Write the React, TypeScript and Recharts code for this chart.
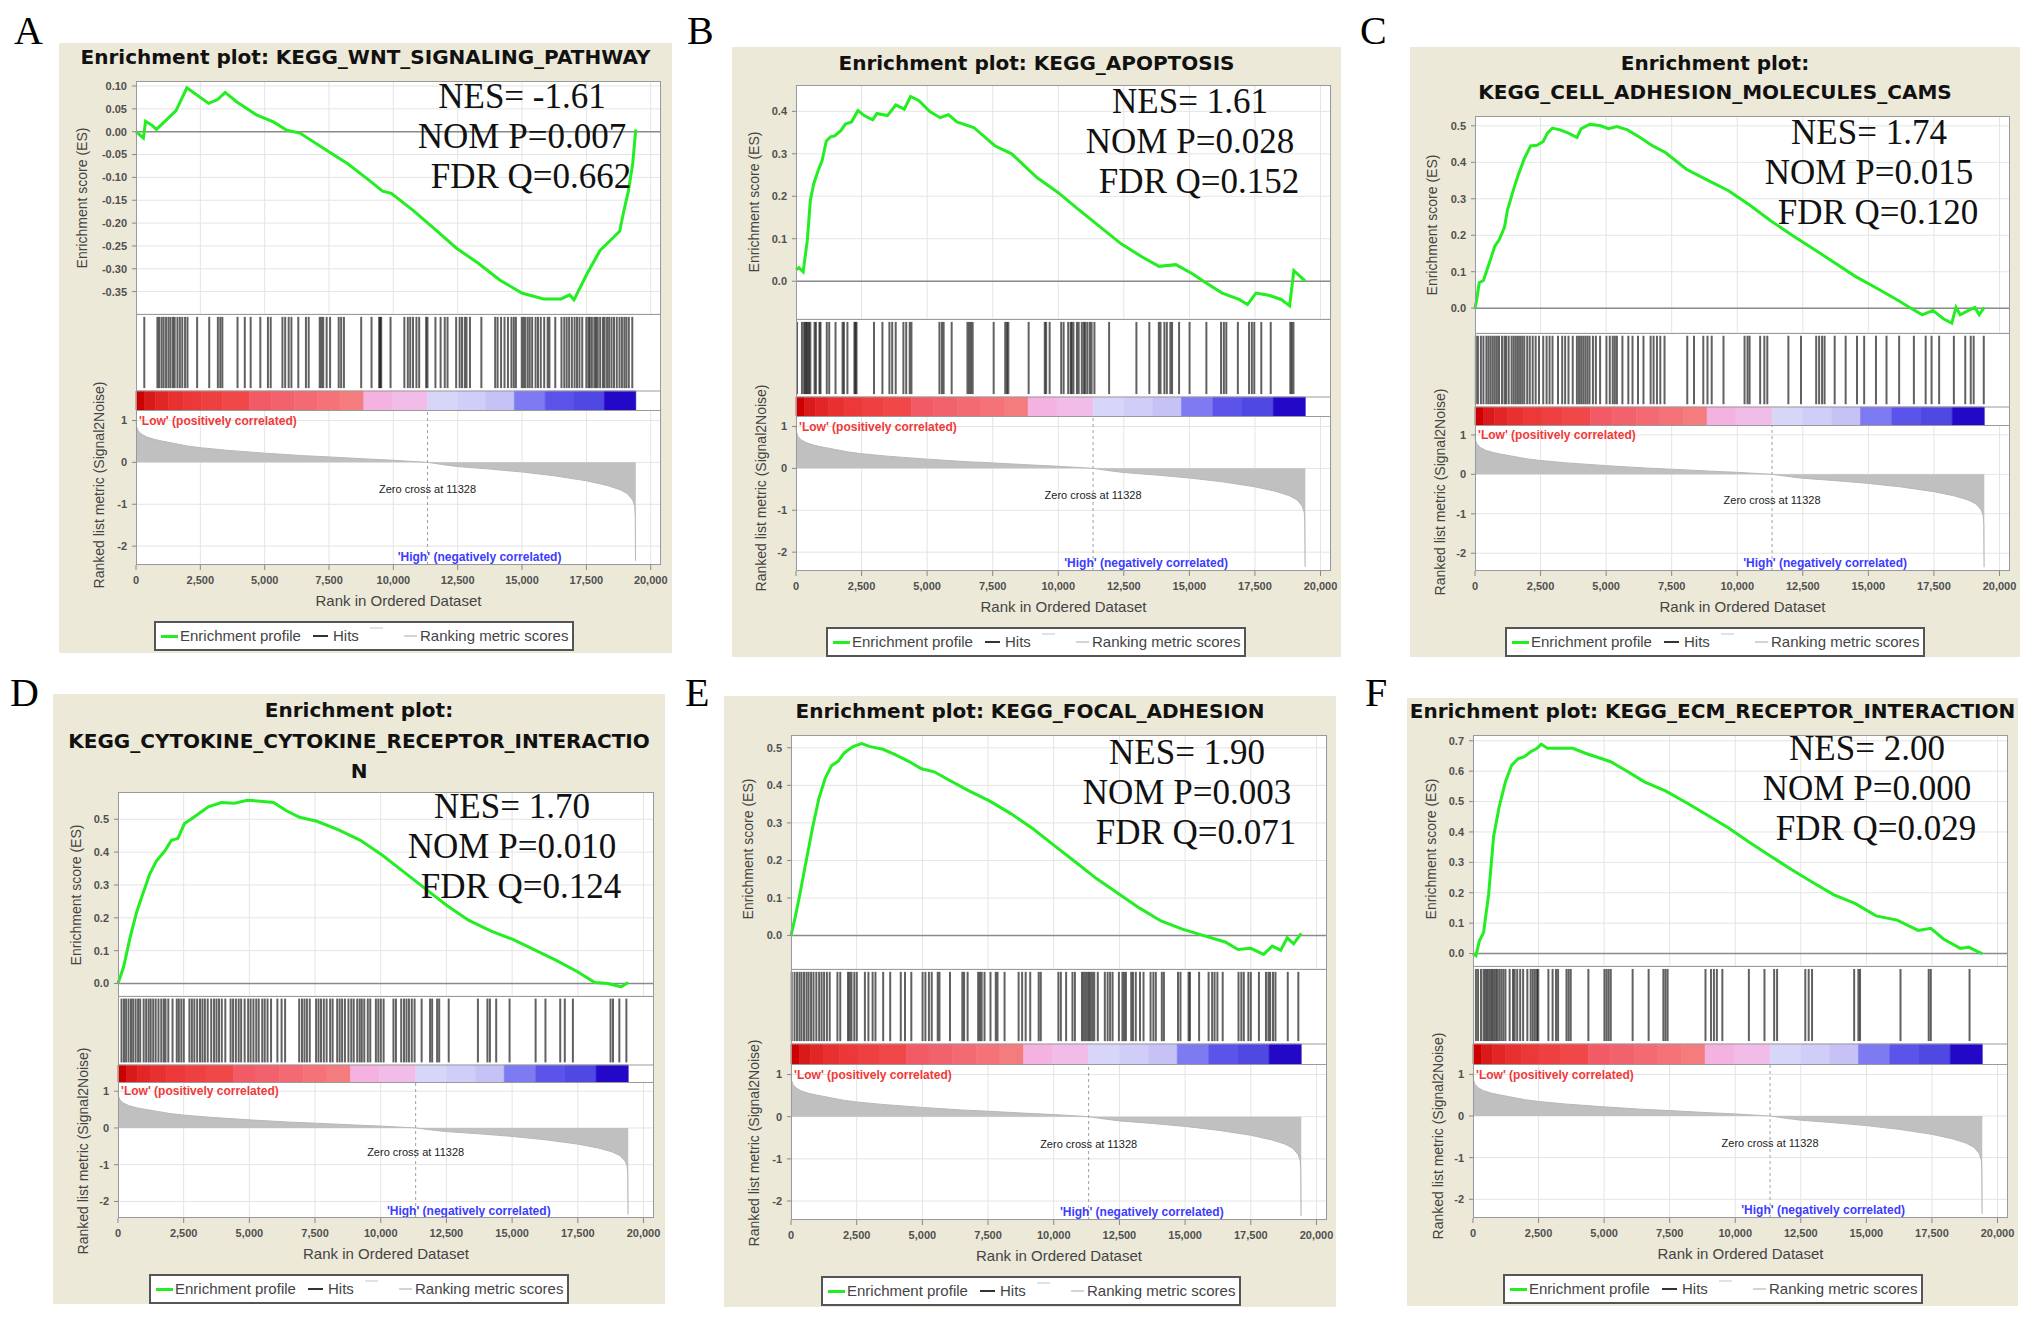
import React from 'react'
import {
  ComposedChart, Line, Area, XAxis, YAxis, CartesianGrid,
  ReferenceLine, ReferenceArea, ReferenceDot,
} from 'recharts'

const SANS = '"Liberation Sans", Arial, sans-serif'
const SERIF = '"Liberation Serif", "Times New Roman", serif'
const TITLE_FONT = '"DejaVu Sans", sans-serif'

const GREEN = '#22ee22'
const PANEL_BG = '#ece9d8'
const FRAME = '#9a9a9a'
const GRID = '#e4e4e4'

const X_MAX = 20400
const xTicks = [0, 2500, 5000, 7500, 10000, 12500, 15000, 17500, 20000]
const LIST_SIZE = 19420
const ZERO_CROSS = 11328

// ranked list metric, same ranked list behind all six plots
const metricRank = [0, 20, 80, 200, 400, 700, 1000, 1500, 2000, 2500, 3500, 5000, 6500, 7500, 9000, 10000, 10800, 11328, 12000, 12500, 13750, 15000, 16250, 17500, 18300, 18800, 19100, 19300, 19380, 19400, 19410, 19420]
const metricValue = [1.0, 0.86, 0.76, 0.68, 0.61, 0.55, 0.51, 0.45, 0.39, 0.35, 0.29, 0.22, 0.16, 0.13, 0.08, 0.05, 0.02, 0.0, -0.06, -0.10, -0.16, -0.23, -0.32, -0.44, -0.55, -0.65, -0.75, -0.90, -1.05, -1.30, -2.35, -2.35]
const metricTicks = [1, 0, -1, -2]
const metricDomain = [-2.45, 1.25]

// heat strip under the hits
const stripStart = [0, 330, 750, 1250, 1850, 2550, 3350, 4400, 5250, 6150, 7050, 7950, 8850, 9950, 11330, 12500, 13600, 14700, 15900, 17000, 18200]
const stripColor = ['#cc0000', '#da1a1a', '#e22626', '#e83030', '#ec3838', '#ee4040', '#f04848', '#f25a66', '#f2626c', '#f46a72', '#f47278', '#f47c7c', '#f4b2e0', '#f2bce8', '#d8d6f8', '#d0cef8', '#c6c2f6', '#7e7af2', '#5c54ea', '#5048e2', '#2408c8']

// A
const titleA = ['Enrichment plot: KEGG_WNT_SIGNALING_PATHWAY']
const statsA = ['NES= -1.61', 'NOM P=0.007', 'FDR Q=0.662']
const esRankA = [0, 287, 372, 625, 794, 1132, 1555, 1977, 2231, 2822, 3160, 3465, 3921, 4681, 5357, 5864, 6371, 7554, 8230, 9075, 9582, 9920, 10765, 11610, 12455, 13300, 14145, 14990, 15835, 16511, 16849, 17018, 17525, 18032, 18539, 18793, 18962, 19131, 19300, 19420]
const esValueA = [0, -0.014, 0.023, 0.014, 0.005, 0.023, 0.046, 0.096, 0.086, 0.062, 0.07, 0.086, 0.065, 0.037, 0.021, 0.003, -0.003, -0.046, -0.07, -0.107, -0.13, -0.135, -0.172, -0.213, -0.255, -0.288, -0.325, -0.353, -0.366, -0.366, -0.357, -0.368, -0.311, -0.26, -0.232, -0.218, -0.172, -0.13, -0.07, 0.005]
const esTicksA = [0.1, 0.05, 0, -0.05, -0.1, -0.15, -0.2, -0.25, -0.3, -0.35]
const esDomainA = [-0.399, 0.111]
const hitsA = [322, 832, 899, 993, 1074, 1168, 1261, 1342, 1436, 1503, 1610, 1704, 1798, 1906, 2000, 2375, 2845, 3181, 3274, 3355, 3945, 4227, 4455, 4831, 5126, 5234, 5690, 5797, 5932, 6039, 6307, 6603, 6710, 7139, 7207, 7274, 7408, 7542, 7877, 7971, 8079, 8750, 9152, 9448, 9488, 9528, 9891, 10427, 10562, 10655, 10763, 10897, 11004, 11273, 11326, 11635, 11836, 11997, 12105, 12440, 12575, 12668, 12776, 12843, 12977, 13420, 13957, 14051, 14185, 14319, 14453, 14588, 14681, 14762, 14990, 15057, 15124, 15218, 15299, 15393, 15527, 15621, 15728, 15862, 15997, 16064, 16292, 16533, 16641, 16735, 16829, 16936, 17043, 17137, 17231, 17339, 17499, 17580, 17634, 17714, 17808, 17875, 17943, 18036, 18144, 18211, 18305, 18385, 18479, 18573, 18681, 18788, 18882, 18976, 19056, 19150, 19284]

// B
const titleB = ['Enrichment plot: KEGG_APOPTOSIS']
const statsB = ['NES= 1.61', 'NOM P=0.028', 'FDR Q=0.152']
const esRankB = [0, 112, 273, 434, 546, 675, 835, 996, 1156, 1317, 1478, 1718, 1879, 2120, 2361, 2602, 2923, 3084, 3485, 3806, 4127, 4368, 4690, 5091, 5493, 5814, 6135, 6777, 7580, 8223, 9186, 9989, 10792, 11595, 12398, 13201, 13843, 14486, 15129, 15610, 16253, 16895, 17216, 17537, 18019, 18501, 18822, 18983, 19420]
const esValueB = [0.027, 0.032, 0.022, 0.098, 0.19, 0.229, 0.259, 0.284, 0.33, 0.34, 0.342, 0.355, 0.37, 0.375, 0.402, 0.39, 0.38, 0.395, 0.39, 0.415, 0.405, 0.435, 0.425, 0.4, 0.385, 0.392, 0.375, 0.362, 0.319, 0.3, 0.244, 0.209, 0.168, 0.128, 0.088, 0.057, 0.035, 0.039, 0.017, -0.003, -0.028, -0.043, -0.055, -0.028, -0.033, -0.043, -0.058, 0.025, 0.0]
const esTicksB = [0, 0.1, 0.2, 0.3, 0.4]
const esDomainB = [-0.089, 0.462]
const hitsB = [40, 227, 307, 360, 400, 440, 494, 547, 707, 760, 894, 934, 1174, 1267, 1507, 1774, 1828, 1961, 2228, 2268, 2308, 2975, 3295, 3562, 3668, 3802, 4095, 4202, 4336, 4402, 5469, 5563, 5630, 5936, 6537, 6603, 6670, 6737, 7537, 7977, 8044, 8097, 8871, 9485, 9538, 9672, 10112, 10205, 10379, 10472, 10512, 10579, 10712, 10779, 10899, 10979, 11032, 11112, 11205, 11272, 11379, 11939, 12980, 13473, 13834, 13900, 14047, 14140, 14274, 14340, 14607, 15007, 15648, 16208, 16315, 16408, 16848, 17275, 17382, 17475, 17742, 18102, 18849, 18903, 18969]

// C
const titleC = ['Enrichment plot:', 'KEGG_CELL_ADHESION_MOLECULES_CAMS']
const statsC = ['NES= 1.74', 'NOM P=0.015', 'FDR Q=0.120']
const esRankC = [0, 64, 161, 321, 514, 755, 915, 1124, 1237, 1478, 1638, 1879, 2120, 2361, 2602, 2762, 2955, 3244, 3565, 3886, 4047, 4368, 4770, 5091, 5412, 5814, 6296, 6777, 7259, 8062, 8865, 9668, 10471, 11274, 12077, 12880, 13683, 14486, 15289, 16092, 16574, 17056, 17457, 17859, 18180, 18341, 18501, 18823, 19063, 19224, 19420]
const esValueC = [0, 0.023, 0.07, 0.076, 0.117, 0.17, 0.187, 0.222, 0.269, 0.328, 0.363, 0.41, 0.445, 0.447, 0.457, 0.48, 0.494, 0.489, 0.48, 0.468, 0.492, 0.504, 0.501, 0.492, 0.498, 0.489, 0.468, 0.445, 0.427, 0.381, 0.351, 0.322, 0.283, 0.24, 0.201, 0.164, 0.126, 0.088, 0.056, 0.023, 0.002, -0.018, -0.006, -0.029, -0.041, 0.002, -0.018, -0.006, 0.002, -0.018, 0.002]
const esTicksC = [0, 0.1, 0.2, 0.3, 0.4, 0.5]
const esDomainC = [-0.068, 0.527]
const hitsC = [32, 112, 225, 321, 434, 514, 594, 675, 755, 835, 915, 1028, 1124, 1188, 1285, 1397, 1478, 1558, 1638, 1718, 1799, 1879, 1991, 2088, 2200, 2313, 2441, 2602, 2730, 2843, 2955, 3164, 3324, 3437, 3565, 3726, 3886, 3967, 4047, 4127, 4208, 4288, 4368, 4497, 4609, 4770, 5011, 5139, 5252, 5332, 5412, 5621, 5846, 6006, 6215, 6424, 6697, 6809, 6938, 7066, 7227, 8094, 8351, 8705, 8865, 9026, 9475, 10278, 10391, 10471, 10873, 11033, 11146, 11949, 12430, 13009, 13121, 13234, 13330, 13715, 14133, 14566, 14839, 15289, 15691, 16173, 16735, 17184, 17409, 17698, 18260, 18694, 18903, 19015, 19400]

// D
const titleD = ['Enrichment plot:', 'KEGG_CYTOKINE_CYTOKINE_RECEPTOR_INTERACTIO', 'N']
const statsD = ['NES= 1.70', 'NOM P=0.010', 'FDR Q=0.124']
const esRankD = [0, 215, 463, 711, 959, 1207, 1455, 1785, 2033, 2281, 2529, 2777, 3108, 3438, 3934, 4430, 4926, 5422, 5918, 6414, 6910, 7571, 8397, 9224, 10050, 10877, 11703, 12530, 13356, 14183, 15009, 15836, 16662, 17489, 18150, 18646, 19142, 19420]
const esValueD = [0, 0.051, 0.141, 0.218, 0.276, 0.333, 0.372, 0.404, 0.436, 0.442, 0.487, 0.5, 0.519, 0.538, 0.551, 0.549, 0.558, 0.555, 0.551, 0.526, 0.506, 0.494, 0.468, 0.436, 0.391, 0.34, 0.288, 0.237, 0.192, 0.16, 0.135, 0.103, 0.071, 0.036, 0.003, 0, -0.01, 0.003]
const esTicksD = [0, 0.1, 0.2, 0.3, 0.4, 0.5]
const esDomainD = [-0.038, 0.583]
const hitsD = [134, 228, 308, 402, 495, 576, 670, 763, 844, 977, 1071, 1165, 1245, 1339, 1433, 1540, 1647, 1741, 1808, 1915, 2075, 2236, 2316, 2410, 2504, 2718, 2812, 2906, 3013, 3120, 3214, 3307, 3414, 3548, 3655, 3749, 3843, 3950, 4084, 4285, 4379, 4486, 4593, 4687, 4820, 4954, 5048, 5155, 5262, 5356, 5490, 5584, 5691, 5825, 6066, 6226, 6360, 6896, 7003, 7097, 7190, 7298, 7539, 7632, 7726, 7833, 7940, 8074, 8168, 8342, 8436, 8529, 8637, 8770, 8878, 8971, 9105, 9199, 9279, 9373, 9507, 9601, 9815, 9909, 10003, 10109, 10484, 10578, 10779, 10886, 10980, 11074, 11181, 11288, 11556, 11877, 11957, 12145, 12225, 12587, 13698, 14060, 14154, 14394, 14903, 15894, 16269, 16831, 17005, 17313, 18746, 18840, 19081, 19349]

// E
const titleE = ['Enrichment plot: KEGG_FOCAL_ADHESION']
const statsE = ['NES= 1.90', 'NOM P=0.003', 'FDR Q=0.071']
const esRankE = [0, 163, 326, 570, 814, 1058, 1302, 1547, 1791, 2035, 2361, 2686, 3012, 3500, 3989, 4477, 4965, 5454, 5942, 6756, 7570, 8384, 9198, 10012, 10826, 11640, 12454, 13268, 14082, 14896, 15710, 16524, 17013, 17501, 17989, 18315, 18641, 18885, 19129, 19420]
const esValueE = [0, 0.05, 0.106, 0.196, 0.285, 0.364, 0.419, 0.453, 0.464, 0.487, 0.503, 0.511, 0.503, 0.496, 0.481, 0.464, 0.444, 0.436, 0.417, 0.386, 0.358, 0.324, 0.285, 0.24, 0.196, 0.151, 0.112, 0.073, 0.039, 0.017, 0, -0.017, -0.037, -0.034, -0.05, -0.028, -0.039, -0.006, -0.022, 0.006]
const esTicksE = [0, 0.1, 0.2, 0.3, 0.4, 0.5]
const esDomainE = [-0.089, 0.534]
const hitsE = [27, 134, 228, 321, 402, 495, 589, 670, 763, 857, 964, 1071, 1165, 1259, 1366, 1473, 1767, 1875, 2169, 2236, 2303, 2410, 2504, 2812, 2946, 3106, 3214, 3508, 3776, 4178, 4338, 4579, 5008, 5115, 5249, 5356, 5584, 5651, 6052, 6521, 6588, 6722, 7123, 7190, 7257, 7365, 7592, 7793, 7860, 8128, 8663, 8797, 8931, 9105, 9427, 9507, 10176, 10270, 10471, 10712, 10806, 11074, 11141, 11208, 11275, 11341, 11408, 11475, 11542, 11676, 11944, 12051, 12145, 12239, 12480, 12614, 12680, 12747, 12948, 13015, 13122, 13283, 13417, 13685, 13792, 13885, 14113, 14193, 14729, 14823, 15131, 15184, 15532, 15894, 16028, 16122, 16229, 16430, 17032, 17139, 17233, 17407, 17501, 17809, 18077, 18170, 18237, 18344, 18438, 18907, 19309]

// F
const titleF = ['Enrichment plot: KEGG_ECM_RECEPTOR_INTERACTION']
const statsF = ['NES= 2.00', 'NOM P=0.000', 'FDR Q=0.029']
const esRankF = [0, 112, 241, 402, 594, 787, 996, 1237, 1478, 1718, 1959, 2200, 2441, 2602, 2843, 3324, 3806, 4288, 4770, 5252, 5894, 6536, 7339, 8142, 8945, 9748, 10551, 11354, 12157, 12960, 13763, 14566, 15369, 16172, 16975, 17457, 17939, 18582, 18903, 19224, 19420]
const esValueF = [0, -0.007, 0.041, 0.069, 0.193, 0.386, 0.482, 0.565, 0.62, 0.641, 0.648, 0.664, 0.675, 0.689, 0.675, 0.675, 0.675, 0.659, 0.645, 0.631, 0.599, 0.565, 0.535, 0.496, 0.455, 0.413, 0.365, 0.32, 0.276, 0.234, 0.193, 0.165, 0.124, 0.11, 0.076, 0.083, 0.048, 0.017, 0.021, 0.007, 0]
const esTicksF = [0, 0.1, 0.2, 0.3, 0.4, 0.5, 0.6, 0.7]
const esDomainF = [-0.041, 0.719]
const hitsF = [112, 193, 305, 402, 466, 530, 594, 658, 723, 787, 851, 915, 996, 1076, 1156, 1237, 1397, 1526, 1590, 1686, 1799, 1911, 2072, 2200, 2281, 2361, 2441, 2489, 2875, 3035, 3164, 3244, 3565, 3646, 3726, 4400, 5011, 5091, 5171, 5252, 6087, 6697, 7259, 7339, 7420, 8865, 9074, 9187, 9299, 9508, 10519, 11114, 11483, 11595, 12671, 12800, 12928, 14534, 14695, 14759, 16301, 17377, 17457, 18934]

// page layout of each plot (pixels)
const layoutA = { box: [59, 43, 613, 610], titleY: [57], plotL: 136, plotR: 661, esT: 81, esB: 314, hitB: 391, cbB: 410, metB: 565, legL: 154, esLab: [82, 198], metLab: [99, 485], stats: [522, 97], letter: [14, 44] }
const layoutB = { box: [732, 47, 609, 610], titleY: [63], plotL: 796, plotR: 1331, esT: 85, esB: 319, hitB: 397, cbB: 416, metB: 571, legL: 826, esLab: [754, 202], metLab: [761, 488], stats: [1190, 102], letter: [687, 44] }
const layoutC = { box: [1410, 47, 610, 610], titleY: [63, 92], plotL: 1475, plotR: 2010, esT: 116, esB: 333, hitB: 407, cbB: 425, metB: 571, legL: 1505, esLab: [1432, 225], metLab: [1440, 492], stats: [1869, 133], letter: [1360, 44] }
const layoutD = { box: [53, 694, 612, 610], titleY: [710, 741, 771], plotL: 118, plotR: 654, esT: 792, esB: 996, hitB: 1065, cbB: 1082, metB: 1218, legL: 149, esLab: [76, 895], metLab: [83, 1151], stats: [512, 807], letter: [10, 706] }
const layoutE = { box: [724, 696, 612, 611], titleY: [711], plotL: 791, plotR: 1327, esT: 735, esB: 969, hitB: 1044, cbB: 1064, metB: 1220, legL: 821, esLab: [748, 849], metLab: [754, 1143], stats: [1187, 753], letter: [685, 706] }
const layoutF = { box: [1407, 698, 611, 608], titleY: [711], plotL: 1473, plotR: 2008, esT: 735, esB: 966, hitB: 1044, cbB: 1064, metB: 1218, legL: 1503, esLab: [1431, 849], metLab: [1438, 1136], stats: [1867, 749], letter: [1365, 706] }

const panels = [
  { letter: 'A', title: titleA, stats: statsA, esRank: esRankA, esValue: esValueA, esTicks: esTicksA, esDomain: esDomainA, digits: 2, hits: hitsA, lay: layoutA },
  { letter: 'B', title: titleB, stats: statsB, esRank: esRankB, esValue: esValueB, esTicks: esTicksB, esDomain: esDomainB, digits: 1, hits: hitsB, lay: layoutB },
  { letter: 'C', title: titleC, stats: statsC, esRank: esRankC, esValue: esValueC, esTicks: esTicksC, esDomain: esDomainC, digits: 1, hits: hitsC, lay: layoutC },
  { letter: 'D', title: titleD, stats: statsD, esRank: esRankD, esValue: esValueD, esTicks: esTicksD, esDomain: esDomainD, digits: 1, hits: hitsD, lay: layoutD },
  { letter: 'E', title: titleE, stats: statsE, esRank: esRankE, esValue: esValueE, esTicks: esTicksE, esDomain: esDomainE, digits: 1, hits: hitsE, lay: layoutE },
  { letter: 'F', title: titleF, stats: statsF, esRank: esRankF, esValue: esValueF, esTicks: esTicksF, esDomain: esDomainF, digits: 1, hits: hitsF, lay: layoutF },
]

const metricData = metricRank.map((r, i) => ({ rank: r, metric: metricValue[i] }))

const Y_W = 60
const RIGHT_PAD = 24
const X_H = 46
const NO_MARGIN = { top: 0, right: RIGHT_PAD, bottom: 0, left: 0 }
const tickStyle = { fontSize: 11, fill: '#505050', fontFamily: SANS, fontWeight: 'bold' }

function Frame({ left, top, width, height }: any) {
  return (
    <div style={{
      position: 'absolute', left, top, width, height, boxSizing: 'border-box',
      border: `1px solid ${FRAME}`, pointerEvents: 'none',
    }} />
  )
}

function VLabel({ x, y, text }: any) {
  return (
    <div style={{
      position: 'absolute', left: x, top: y, whiteSpace: 'nowrap',
      transform: 'translate(-50%, -50%) rotate(-90deg)',
      fontFamily: SANS, fontSize: 14, color: '#444',
    }}>{text}</div>
  )
}

function Legend({ left, top }: any) {
  const bar = (x: number, w: number, color: string, h: number, dy = 0) => (
    <div style={{ position: 'absolute', left: x, top: 13 - h / 2 + dy, width: w, height: h, background: color }} />
  )
  const txt = (x: number, s: string) => (
    <span style={{ position: 'absolute', left: x, top: 0, lineHeight: '26px', whiteSpace: 'nowrap' }}>{s}</span>
  )
  return (
    <div style={{
      position: 'absolute', left, top, width: 420, height: 30, boxSizing: 'border-box',
      border: '2px solid #555', background: '#fff', fontFamily: SANS, fontSize: 15, color: '#444',
    }}>
      {bar(5, 17, GREEN, 3)}
      {txt(24, 'Enrichment profile')}
      {bar(157, 15, '#333', 2)}
      {txt(177, 'Hits')}
      {bar(214, 13, '#e2e2e2', 2, -8)}
      {bar(248, 13, '#d4d4d4', 2)}
      {txt(264, 'Ranking metric scores')}
    </div>
  )
}

function Panel({ p }: any) {
  const L = p.lay
  const [bx, by, bw, bh] = L.box
  const plotW = L.plotR - L.plotL
  const chartW = Y_W + plotW + RIGHT_PAD
  const esData = p.esRank.map((r: number, i: number) => ({ rank: r, es: p.esValue[i] }))
  const bandH = L.cbB - L.esB
  const cut = (L.cbB - L.hitB) / bandH
  const hitData = p.hits.map((h: number) => ({ rank: h, mid: 0.5 }))
  const metH = L.metB - L.cbB

  return (
    <>
      <div style={{ position: 'absolute', left: bx, top: by, width: bw, height: bh, background: PANEL_BG }} />
      <div style={{
        position: 'absolute', left: L.letter[0], top: L.letter[1] - 33, fontFamily: SERIF,
        fontSize: 40, lineHeight: '40px', color: '#000',
      }}>{p.letter}</div>
      {p.title.map((t: string, i: number) => (
        <div key={i} style={{
          position: 'absolute', left: bx, width: bw, top: L.titleY[i] - 12, height: 24, lineHeight: '24px',
          textAlign: 'center', whiteSpace: 'nowrap', fontFamily: TITLE_FONT, fontWeight: 'bold',
          fontSize: 20, color: '#111',
        }}>{t}</div>
      ))}

      {/* enrichment score */}
      <div style={{ position: 'absolute', left: L.plotL - Y_W, top: L.esT }}>
        <div style={{ position: 'absolute', left: Y_W, top: 0, width: plotW, height: L.esB - L.esT, background: '#fff' }} />
        <ComposedChart width={chartW} height={L.esB - L.esT} data={esData} margin={NO_MARGIN}>
          <CartesianGrid stroke={GRID} />
          <XAxis type="number" dataKey="rank" domain={[0, X_MAX]} ticks={xTicks} hide />
          <YAxis
            type="number" domain={p.esDomain} ticks={p.esTicks} interval={0} width={Y_W}
            axisLine={false} tickSize={4} tickMargin={5} tickLine={{ stroke: '#888' }}
            tick={tickStyle} tickFormatter={(v: number) => v.toFixed(p.digits)} allowDataOverflow
          />
          <ReferenceLine y={0} stroke="#8a8a8a" strokeWidth={1.5} />
          <Line type="linear" dataKey="es" stroke={GREEN} strokeWidth={3} dot={false} isAnimationActive={false} />
        </ComposedChart>
      </div>

      {/* hits and heat strip */}
      <div style={{ position: 'absolute', left: L.plotL - Y_W, top: L.esB }}>
        <div style={{ position: 'absolute', left: Y_W, top: 0, width: plotW, height: bandH, background: '#fff' }} />
        <ComposedChart width={chartW} height={bandH} data={hitData} margin={NO_MARGIN}>
          <XAxis type="number" dataKey="rank" domain={[0, X_MAX]} hide />
          <YAxis type="number" domain={[0, 1]} width={Y_W} tick={false} tickLine={false} axisLine={false} />
          <Line dataKey="mid" stroke="none" dot={false} activeDot={false} isAnimationActive={false} />
          {stripStart.map((s, i) => (
            <ReferenceArea
              key={'s' + i} x1={s} x2={i + 1 < stripStart.length ? stripStart[i + 1] : LIST_SIZE}
              y1={0} y2={cut} fill={stripColor[i]} fillOpacity={1} stroke={stripColor[i]} strokeWidth={0.6}
            />
          ))}
          <ReferenceLine y={cut} stroke={FRAME} />
          {p.hits.map((h: number, i: number) => (
            <ReferenceLine
              key={'h' + i} segment={[{ x: h, y: cut + 0.03 }, { x: h, y: 0.97 }]}
              stroke="#000" strokeOpacity={0.62} strokeWidth={2}
            />
          ))}
        </ComposedChart>
      </div>

      {/* ranked list metric */}
      <div style={{ position: 'absolute', left: L.plotL - Y_W, top: L.cbB }}>
        <div style={{ position: 'absolute', left: Y_W, top: 0, width: plotW, height: metH, background: '#fff' }} />
        <ComposedChart width={chartW} height={metH + X_H} data={metricData} margin={NO_MARGIN}>
          <CartesianGrid stroke={GRID} />
          <XAxis
            type="number" dataKey="rank" domain={[0, X_MAX]} ticks={xTicks} interval={0} height={X_H}
            axisLine={false} tickSize={5} tickMargin={6} tickLine={{ stroke: '#888' }} tick={tickStyle}
            tickFormatter={(v: number) => v.toLocaleString('en-US')}
          />
          <YAxis
            type="number" domain={metricDomain} ticks={metricTicks} interval={0} width={Y_W}
            axisLine={false} tickSize={4} tickMargin={5} tickLine={{ stroke: '#888' }} tick={tickStyle}
          />
          <Area
            type="linear" dataKey="metric" baseValue={0} fill="#c0c0c0" fillOpacity={1}
            stroke="#b8b8b8" strokeWidth={1} isAnimationActive={false}
          />
          <ReferenceLine x={ZERO_CROSS} stroke="#a0a0a0" strokeDasharray="3 3" />
          <ReferenceDot
            x={40} y={1.0} r={0} fill="none" stroke="none"
            label={{ value: "'Low' (positively correlated)", position: 'right', offset: 2, fill: '#f03a3a', fontSize: 12, fontWeight: 'bold', fontFamily: SANS }}
          />
          <ReferenceDot
            x={ZERO_CROSS} y={-0.65} r={0} fill="none" stroke="none"
            label={{ value: 'Zero cross at 11328', position: 'center', fill: '#222', fontSize: 11, fontFamily: SANS }}
          />
          <ReferenceDot
            x={13350} y={-2.25} r={0} fill="none" stroke="none"
            label={{ value: "'High' (negatively correlated)", position: 'center', fill: '#3c3cff', fontSize: 12, fontWeight: 'bold', fontFamily: SANS }}
          />
        </ComposedChart>
      </div>

      <Frame left={L.plotL} top={L.esT} width={plotW} height={L.esB - L.esT + 1} />
      <Frame left={L.plotL} top={L.esB} width={plotW} height={bandH + 1} />
      <Frame left={L.plotL} top={L.cbB} width={plotW} height={metH} />

      <VLabel x={L.esLab[0]} y={L.esLab[1]} text="Enrichment score (ES)" />
      <VLabel x={L.metLab[0]} y={L.metLab[1]} text="Ranked list metric (Signal2Noise)" />
      <div style={{
        position: 'absolute', left: L.plotL, width: plotW, top: L.metB + 36 - 10, lineHeight: '20px',
        textAlign: 'center', fontFamily: SANS, fontSize: 15, color: '#444',
      }}>Rank in Ordered Dataset</div>

      <div style={{
        position: 'absolute', left: L.stats[0] - 170, top: L.stats[1] - 20, width: 340,
        textAlign: 'center', fontFamily: SERIF, fontSize: 35, lineHeight: '40px', color: '#111', whiteSpace: 'nowrap',
      }}>
        <div>{p.stats[0]}</div>
        <div>{p.stats[1]}</div>
        <div style={{ paddingLeft: 18 }}>{p.stats[2]}</div>
      </div>

      <Legend left={L.legL} top={L.metB + 56} />
    </>
  )
}

export default function App() {
  return (
    <div style={{ position: 'absolute', left: 0, top: 0, width: 2031, height: 1317, background: '#fff', overflow: 'hidden' }}>
      {panels.map(p => <Panel key={p.letter} p={p} />)}
    </div>
  )
}
